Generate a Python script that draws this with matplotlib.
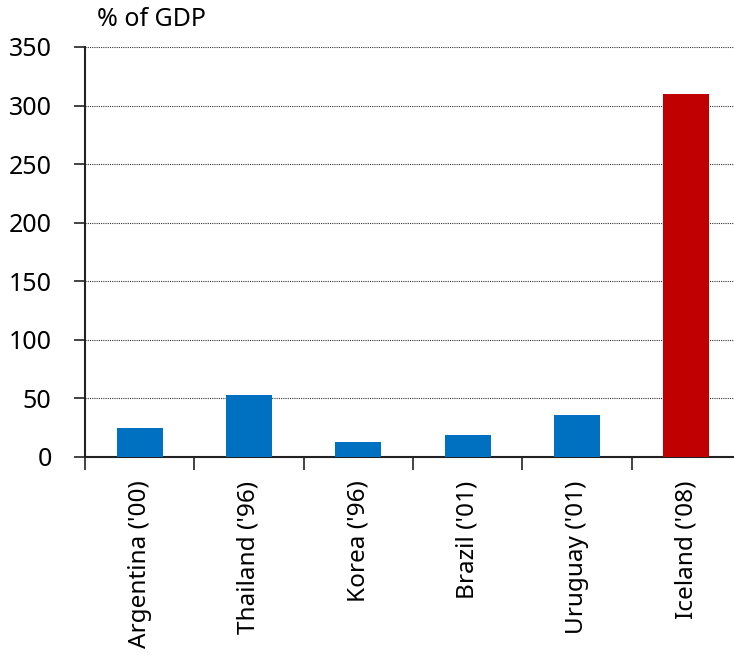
import matplotlib
matplotlib.use("Agg")
import matplotlib.pyplot as plt

categories = ["Argentina ('00)", "Thailand ('96)", "Korea ('96)", "Brazil ('01)", "Uruguay ('01)", "Iceland ('08)"]
values = [24.5, 52.7, 12.5, 18.7, 35.8, 309.5]
colors = ["#0070C0"] * 5 + ["#C00000"]
yticks = [0, 50, 100, 150, 200, 250, 300, 350]

plt.rcParams['font.family'] = ['Noto Sans', 'DejaVu Sans']

fig = plt.figure(figsize=(7.34, 6.57), dpi=100)
ax = fig.add_axes([85/734, 1 - 457/657, 656/734, (457 - 47)/657])

x = list(range(len(categories)))
ax.bar(x, values, width=0.42, color=colors, zorder=3)
ax.set_xlim(-0.5, len(categories) - 0.5)
ax.set_ylim(0, 350)
ax.set_yticks(yticks)
ax.set_yticklabels([str(v) for v in yticks], fontsize=18)
ax.yaxis.grid(True, linestyle=(0, (1, 1)), color="#333333", linewidth=0.8, zorder=0)
ax.set_axisbelow(True)

ax.set_xticks(x)
ax.set_xticklabels(categories, rotation=90, fontsize=17.5)
ax.tick_params(axis='x', length=0, pad=17)
ax.set_xticks([i - 0.5 for i in range(len(categories) + 1)], minor=True)
ax.tick_params(axis='x', which='minor', length=9, width=1.2, color="#222222", direction='out')
ax.tick_params(axis='y', length=8, width=1.2, color="#222222", direction='out', pad=16)

for s in ['top', 'right']:
    ax.spines[s].set_visible(False)
ax.spines['left'].set_linewidth(1.5)
ax.spines['left'].set_color("#222222")
ax.spines['bottom'].set_linewidth(1.5)
ax.spines['bottom'].set_color("#222222")

fig.text(97/734, 1 - 20/657, "% of GDP", fontsize=18, va='center', ha='left')

fig.savefig("out.png", dpi=100)
